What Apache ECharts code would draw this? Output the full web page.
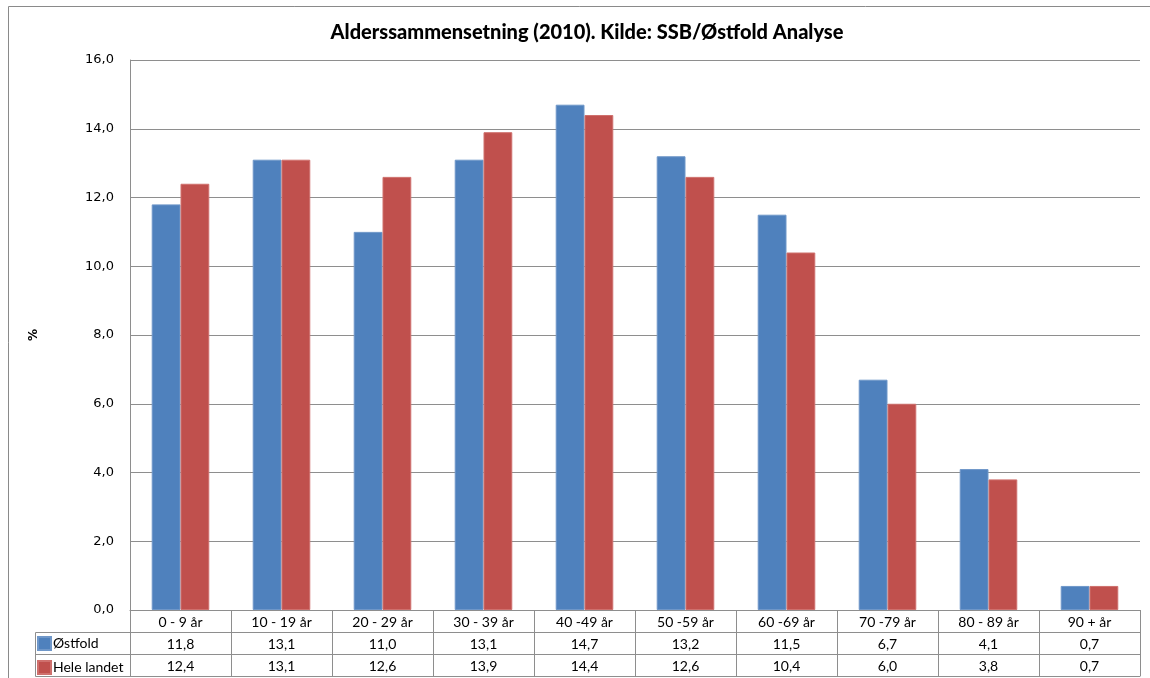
<!DOCTYPE html>
<html>
<head>
<meta charset="utf-8">
<script src="https://cdn.jsdelivr.net/npm/echarts@6/dist/echarts.min.js"></script>
<style>
  html, body { margin: 0; padding: 0; background: #fff; }
  #chart { width: 1150px; height: 678px; }
</style>
</head>
<body>
<div id="chart"></div>
<script>
// data
var categories = ['0 - 9 år', '10 - 19 år', '20 - 29 år', '30 - 39 år', '40 -49 år', '50 -59 år', '60 -69 år', '70 -79 år', '80 - 89 år', '90 + år']
var ostfold = [11.8, 13.1, 11.0, 13.1, 14.7, 13.2, 11.5, 6.7, 4.1, 0.7]
var heleLandet = [12.4, 13.1, 12.6, 13.9, 14.4, 12.6, 10.4, 6.0, 3.8, 0.7]
var yTicks = { min: 0, max: 16, interval: 2 }

function comma (v) {
  return Number(v).toFixed(1).replace('.', ',')
}

var lineColor = '#8e8e8e'
var tableFont = { fontFamily: 'Lato', fontSize: 14, color: '#000' }

var myChart = echarts.init(document.getElementById('chart'))
var option = {
  animation: false,
  title: {
    text: 'Alderssammensetning (2010). Kilde: SSB/Østfold Analyse',
    left: 582,
    top: 18,
    textAlign: 'center',
    textStyle: { fontFamily: 'Lato', fontWeight: 900, fontSize: 20, color: '#000' }
  },
  legend: {
    orient: 'vertical',
    left: 37,
    top: 636,
    height: 40,
    padding: 0,
    itemWidth: 13,
    itemHeight: 13,
    itemGap: 9,
    icon: 'rect',
    textStyle: { fontFamily: 'Lato', fontSize: 14, color: '#000', padding: [0, 0, 0, -3] },
    data: ['Østfold', 'Hele landet']
  },
  grid: { left: 130, right: 10, top: 60, bottom: 68 },
  xAxis: [
    {
      type: 'category',
      data: categories,
      position: 'bottom',
      axisLine: { lineStyle: { color: lineColor } },
      axisTick: { show: true, interval: 0, length: 66, lineStyle: { color: lineColor } },
      axisLabel: Object.assign({ interval: 0, margin: 5 }, tableFont)
    },
    {
      type: 'category',
      data: ostfold.map(comma),
      position: 'bottom',
      offset: 22,
      axisLine: { lineStyle: { color: lineColor } },
      axisTick: { show: false },
      axisLabel: Object.assign({ interval: 0, margin: 5 }, tableFont)
    },
    {
      type: 'category',
      data: heleLandet.map(comma),
      position: 'bottom',
      offset: 44,
      axisLine: { lineStyle: { color: lineColor } },
      axisTick: { show: false },
      axisLabel: Object.assign({ interval: 0, margin: 5 }, tableFont)
    },
    {
      type: 'category',
      data: categories.map(function () { return '' }),
      position: 'bottom',
      offset: 66,
      axisLine: { lineStyle: { color: lineColor } },
      axisTick: { show: false },
      axisLabel: { show: false }
    }
  ],
  yAxis: {
    type: 'value',
    min: yTicks.min,
    max: yTicks.max,
    interval: yTicks.interval,
    name: '%',
    nameLocation: 'middle',
    nameGap: 90,
    nameRotate: 90,
    nameTextStyle: { fontFamily: 'DejaVu Sans', fontSize: 12, fontWeight: 'bold', color: '#000' },
    axisLine: { show: true, lineStyle: { color: lineColor } },
    axisTick: { show: false },
    axisLabel: { formatter: comma, margin: 16, fontFamily: 'DejaVu Sans', fontSize: 13, color: '#000' },
    splitLine: { lineStyle: { color: lineColor } }
  },
  series: [
    {
      name: 'Østfold',
      type: 'bar',
      xAxisIndex: 0,
      data: ostfold,
      barGap: '0%',
      barCategoryGap: '43%',
      itemStyle: { color: '#4f81bd', borderColor: '#6f97c9', borderWidth: 1 }
    },
    {
      name: 'Hele landet',
      type: 'bar',
      xAxisIndex: 0,
      data: heleLandet,
      itemStyle: { color: '#c0504d', borderColor: '#cf706d', borderWidth: 1 }
    }
  ],
  graphic: [
    // outer chart frame
    { type: 'rect', z: -10, shape: { x: 8.5, y: 6.5, width: 1200, height: 720 }, style: { fill: null, stroke: '#8a8a8a', lineWidth: 1 } },
    // legend column of the data table
    { type: 'line', shape: { x1: 35.5, y1: 632.5, x2: 130, y2: 632.5 }, style: { stroke: lineColor } },
    { type: 'line', shape: { x1: 35.5, y1: 654.5, x2: 130, y2: 654.5 }, style: { stroke: lineColor } },
    { type: 'line', shape: { x1: 35.5, y1: 676.5, x2: 130, y2: 676.5 }, style: { stroke: lineColor } },
    { type: 'line', shape: { x1: 35.5, y1: 632.5, x2: 35.5, y2: 676.5 }, style: { stroke: lineColor } }
  ]
}
myChart.setOption(option)
</script>
</body>
</html>
